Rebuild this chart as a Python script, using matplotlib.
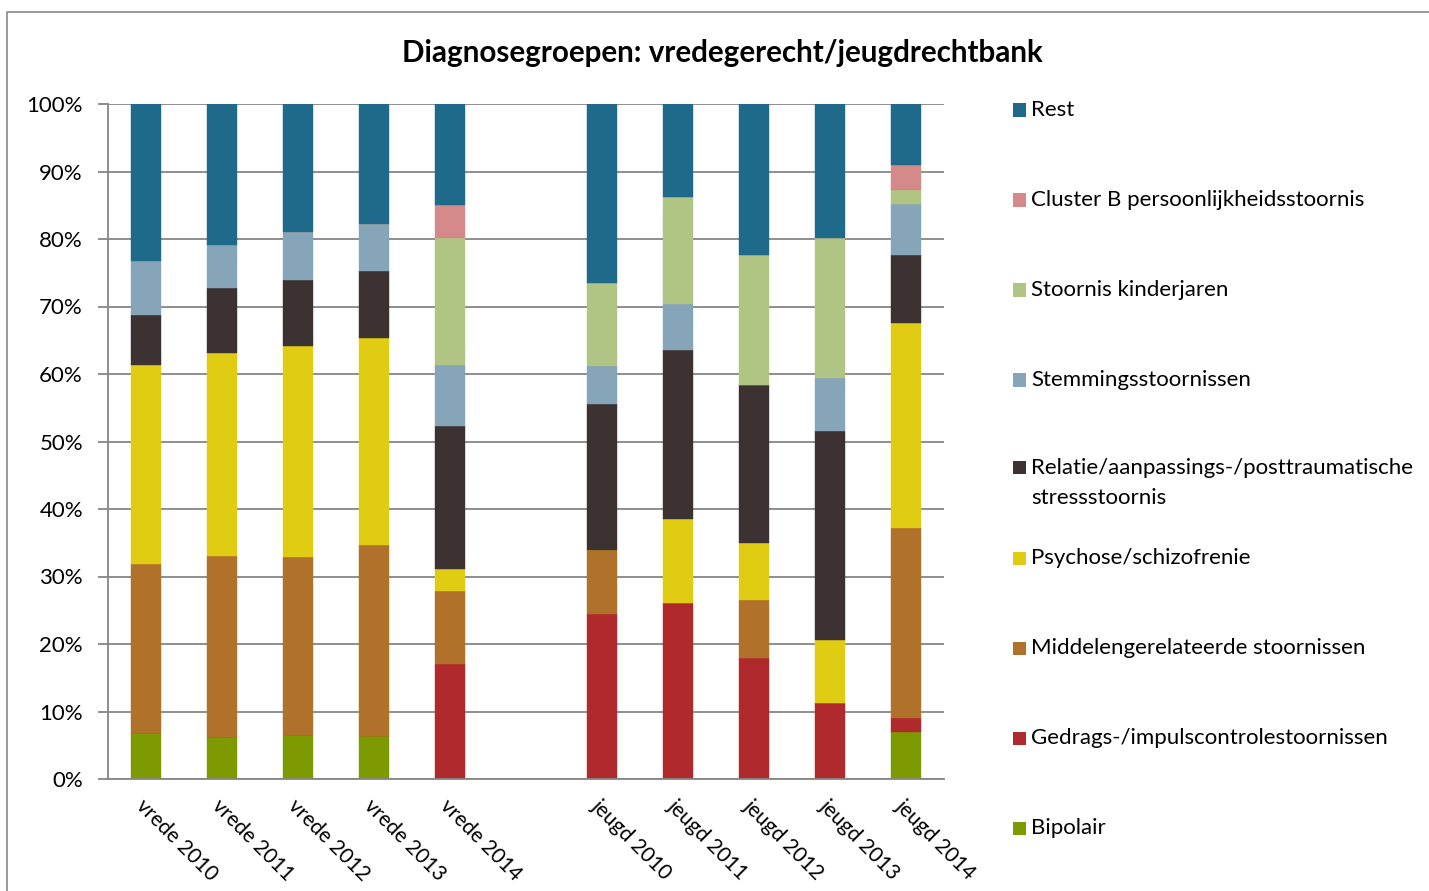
import matplotlib
matplotlib.use("Agg")
import matplotlib.pyplot as plt
from matplotlib.patches import Rectangle
from matplotlib.lines import Line2D
import numpy as np

plt.rcParams['font.family'] = ['Lato', 'DejaVu Sans']

categories = ["vrede 2010", "vrede 2011", "vrede 2012", "vrede 2013", "vrede 2014",
              "",
              "jeugd 2010", "jeugd 2011", "jeugd 2012", "jeugd 2013", "jeugd 2014"]

series_names = ["Bipolair", "Gedrags-/impulscontrolestoornissen", "Middelengerelateerde stoornissen",
                "Psychose/schizofrenie", "Relatie/aanpassings-/posttraumatische\nstressstoornis",
                "Stemmingsstoornissen", "Stoornis kinderjaren", "Cluster B persoonlijkheidsstoornis", "Rest"]

# values in %, per category (gap slot = 0)
bipolair  = [6.8, 6.2, 6.5, 6.4, 0.0, 0, 0.0, 0.0, 0.0, 0.0, 7.0]
gedrags   = [0.0, 0.0, 0.0, 0.0, 17.1, 0, 24.5, 26.1, 18.0, 11.2, 2.1]
middelen  = [25.0, 26.8, 26.4, 28.2, 10.7, 0, 9.4, 0.0, 8.5, 0.0, 28.1]
psychose  = [29.6, 30.1, 31.3, 30.8, 3.3, 0, 0.0, 12.4, 8.5, 9.4, 30.3]
relatie   = [7.3, 9.6, 9.8, 9.8, 21.2, 0, 21.7, 25.1, 23.4, 31.0, 10.1]
stemming  = [8.0, 6.4, 7.0, 7.0, 9.1, 0, 5.6, 6.7, 0.0, 7.8, 7.6]
kinder    = [0.0, 0.0, 0.0, 0.0, 18.8, 0, 12.3, 15.9, 19.2, 20.7, 2.0]
clusterb  = [0.0, 0.0, 0.0, 0.0, 4.9, 0, 0.0, 0.0, 0.0, 0.0, 3.8]
rest      = [23.3, 20.9, 19.0, 17.8, 14.9, 0, 26.5, 13.8, 22.4, 19.9, 9.2]

colors = ["#7D9A00", "#B02A2D", "#B0712A", "#E0CC12", "#3C3231",
          "#87A5B9", "#B0C584", "#D48A88", "#1F6A8A"]

data = [bipolair, gedrags, middelen, psychose, relatie, stemming, kinder, clusterb, rest]

fig = plt.figure(figsize=(14.29, 8.91), dpi=100)
W, H = 1429, 891
ax = fig.add_axes([108 / W, 1 - 779 / H, (944 - 108) / W, (779 - 104) / H])

x = np.arange(len(categories))
bottom = np.zeros(len(categories))
for vals, col in zip(data, colors):
    v = np.array(vals, dtype=float)
    ax.bar(x, v, 0.4, bottom=bottom, color=col, edgecolor=col, linewidth=0.3, zorder=3)
    bottom += v

ax.set_xlim(-0.5, len(categories) - 0.5)
ax.set_ylim(0, 100)
ax.set_yticks(np.arange(0, 101, 10))
ax.set_yticklabels([f"{v}%" for v in range(0, 101, 10)], fontsize=16)
ax.grid(axis='y', color='#868686', linewidth=1.3, zorder=0)
ax.tick_params(axis='y', length=7, width=1.3, color='#868686', pad=11)

tick_pos = [i for i, c in enumerate(categories) if c]
ax.set_xticks(tick_pos)
ax.set_xticklabels([categories[i] for i in tick_pos], rotation=-45, ha='left', va='top',
                   rotation_mode='anchor', fontsize=15)
ax.tick_params(axis='x', length=0, pad=12)

for s in ['top', 'right']:
    ax.spines[s].set_visible(False)
for s in ['left', 'bottom']:
    ax.spines[s].set_color('#868686')
    ax.spines[s].set_linewidth(1.3)
    ax.spines[s].set_zorder(4)

fig.text(722 / W, 1 - 53 / H, "Diagnosegroepen: vredegerecht/jeugdrechtbank",
         ha='center', va='center', fontsize=21.3, fontweight='bold')

# legend (top to bottom: Rest ... Bipolair)
leg_y = [110, 200, 290, 380, 468, 558, 648, 738, 828]
for yy, name, col in zip(leg_y, series_names[::-1], colors[::-1]):
    fig.add_artist(Rectangle((1013 / W, 1 - (yy + 6.5) / H), 13 / W, 13 / H,
                             transform=fig.transFigure, facecolor=col, edgecolor='none'))
    lines = name.split("\n")
    for k, ln in enumerate(lines):
        fig.text(1031 / W, 1 - (yy + 30 * k) / H, ln, ha='left', va='center', fontsize=16)

# outer chart frame (partially visible)
fig.add_artist(Line2D([7 / W, 7 / W, 1.0], [0.0, 1 - 12 / H, 1 - 12 / H],
                      transform=fig.transFigure, color='#888888', linewidth=1.2))

fig.savefig("out.png", dpi=100)
